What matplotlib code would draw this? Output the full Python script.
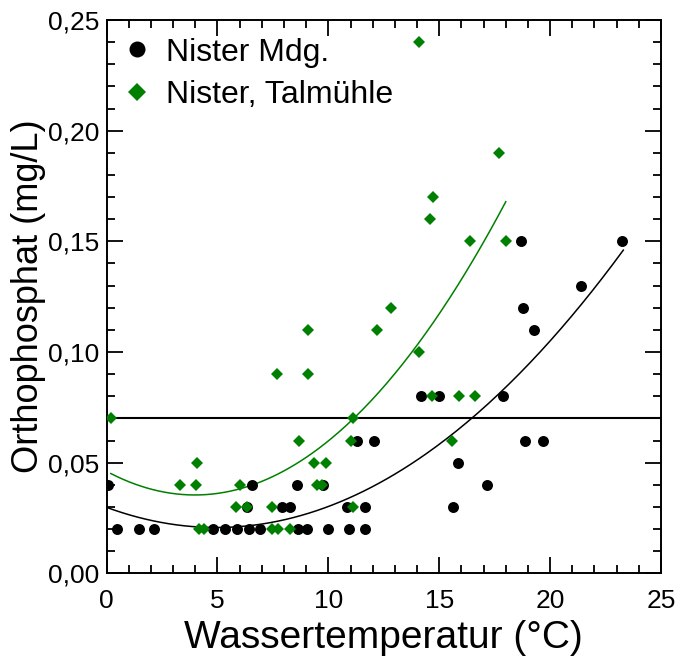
import numpy as np
import matplotlib
matplotlib.use('Agg')
import matplotlib.pyplot as plt
from matplotlib.lines import Line2D
from matplotlib.ticker import MultipleLocator

plt.rcParams['font.family'] = ['Liberation Sans', 'DejaVu Sans']

# Nister Mdg. (schwarze Punkte)
mdg_temp = [0.45, 1.47, 2.15, 4.81, 5.34, 5.86, 6.43, 6.91, 8.63, 9.02, 9.97, 10.94, 11.67,
            6.31, 7.89, 8.25, 10.85, 11.66, 15.63,
            0.06, 6.54, 8.6, 9.77, 17.17,
            15.86,
            11.28, 12.07, 18.87, 19.67,
            14.16, 14.99, 17.86,
            19.27, 18.76, 21.38, 18.67, 23.26]
mdg_po4 = [0.02] * 13 + [0.03] * 6 + [0.04] * 5 + [0.05] + [0.06] * 4 + [0.08] * 3 + \
          [0.11, 0.12, 0.13, 0.15, 0.15]

# Nister, Talmühle (grüne Rauten)
tal_temp = [0.19, 11.1,
            4.09, 9.35, 9.89,
            3.31, 4.01, 6.0, 9.5, 9.7,
            5.83, 6.31, 7.46, 11.1,
            4.16, 4.39, 7.45, 7.75, 8.25,
            8.69, 11.0, 15.59,
            14.69, 15.9, 16.6,
            7.7, 9.09,
            14.1,
            9.09, 12.19,
            12.81,
            16.39, 18.0,
            14.58, 14.7, 17.7, 14.1]
tal_po4 = [0.07] * 2 + [0.05] * 3 + [0.04] * 5 + [0.03] * 4 + [0.02] * 5 + [0.06] * 3 + \
          [0.08] * 3 + [0.09] * 2 + [0.10] + [0.11] * 2 + [0.12] + [0.15] * 2 + \
          [0.16, 0.17, 0.19, 0.24]

# quadratische Trendlinien (a*x^2 + b*x + c) und ihr x-Bereich
mdg_fit = [0.000372, -0.00368, 0.0298]
mdg_fit_range = [0.0, 23.3]
tal_fit = [0.000674, -0.005365, 0.04608]
tal_fit_range = [0.19, 18.0]

grenzwert = 0.07

xticks = [0, 5, 10, 15, 20, 25]
yticks = [0.0, 0.05, 0.10, 0.15, 0.20, 0.25]
ytick_labels = ['0,00', '0,05', '0,10', '0,15', '0,20', '0,25']

green = '#008000'

fig = plt.figure(figsize=(6.79, 6.59), dpi=100)
ax = fig.add_axes([0.157, 0.130, 0.8165, 0.8397])

ax.axhline(grenzwert, color='black', lw=1.5, zorder=1)

xs = np.linspace(*mdg_fit_range, 200)
ax.plot(xs, np.polyval(mdg_fit, xs), color='black', lw=1.1, zorder=2)
xs = np.linspace(*tal_fit_range, 200)
ax.plot(xs, np.polyval(tal_fit, xs), color=green, lw=1.1, zorder=2)

ax.plot(mdg_temp, mdg_po4, 'o', color='black', ms=7.9, mew=0, zorder=3)
ax.plot(tal_temp, tal_po4, 'D', color=green, ms=6.2, mew=0, zorder=4)

ax.set_xlim(0, 25)
ax.set_ylim(0, 0.25)
ax.set_xticks(xticks)
ax.set_xticklabels([str(t) for t in xticks])
ax.set_yticks(yticks)
ax.set_yticklabels(ytick_labels)
ax.xaxis.set_minor_locator(MultipleLocator(1))
ax.yaxis.set_minor_locator(MultipleLocator(0.01))

ax.tick_params(which='both', direction='in', top=True, right=True, width=1.3, labelsize=19)
ax.tick_params(which='major', length=11.5)
ax.tick_params(which='minor', length=5.8)
ax.tick_params(axis='x', pad=11)
ax.tick_params(axis='y', pad=5)
for s in ax.spines.values():
    s.set_linewidth(1.4)

ax.set_xlabel('Wassertemperatur (°C)', fontsize=28, labelpad=5)
ax.set_ylabel('Orthophosphat (mg/L)', fontsize=26, labelpad=2)

handles = [Line2D([], [], ls='none', marker='o', color='black', ms=11.5, mew=0),
           Line2D([], [], ls='none', marker='D', color=green, ms=8.7, mew=0)]
ax.legend(handles, ['Nister Mdg.', 'Nister, Talmühle'], loc='upper left',
          frameon=False, fontsize=23, handlelength=0.8, handletextpad=0.5,
          labelspacing=0.4, borderaxespad=0.0, borderpad=0.55)

fig.savefig('out.png', dpi=100)
